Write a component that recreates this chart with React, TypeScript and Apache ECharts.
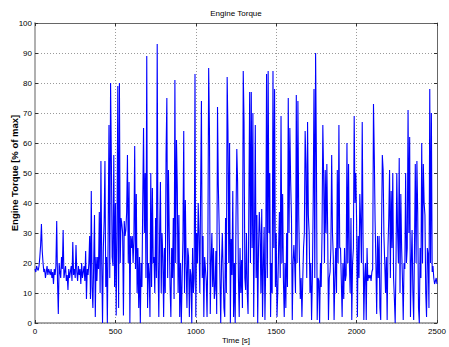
import React, { useEffect, useRef } from "react";
import * as echarts from "echarts";

const TITLE = "Engine Torque";
const X_NAME = "Time [s]";
const Y_NAME = "Engine Torque [% of max]";
const SAMPLE_STEP_S = 5;
const X_MIN = 0;
const X_MAX = 2500;
const X_INTERVAL = 500;
const Y_MIN = 0;
const Y_MAX = 100;
const Y_INTERVAL = 10;

// Engine torque [% of max], one reading every 5 s
const torque0to495 = [
  18, 17, 19, 18, 17.5, 19, 22, 26, 33, 24, 20, 17, 18, 15, 17, 19, 16, 18, 17, 16,
  18, 15, 17, 13, 18, 16, 19, 34, 14, 3, 20, 17, 15, 22, 18, 31, 15, 17, 19, 14,
  16, 11, 18, 15, 17, 19, 14, 27, 16, 18, 15, 26, 17, 14, 19, 16, 18, 13, 20, 15,
  17, 19, 14, 24, 8, 18, 16, 20, 29, 8, 44, 12, 5, 20, 36, 2, 22, 14, 22, 18,
  37, 10, 54, 20, 0, 25, 34, 54, 12, 22, 0, 30, 66, 15, 80, 54, 22, 19, 56, 12,
];
const torque500to995 = [
  40, 2.5, 30, 79, 5, 80, 20, 35, 33, 30, 2.5, 34, 29, 31, 37, 56, 20, 47, 0, 29,
  25, 29, 20, 28, 59, 18, 43, 10, 25, 5, 22, 0, 20, 12, 40, 65, 30, 50, 15, 89,
  5, 20, 16, 2, 50, 12, 45, 20, 22, 10, 35, 15, 93, 20, 2, 30, 47, 10, 30, 22,
  2, 25, 10, 56, 75, 15, 51, 30, 12, 2, 25, 15, 35, 8, 81, 20, 61, 45, 10, 36,
  2, 20, 0, 15, 28, 64, 10, 41, 20, 5, 25, 22, 2, 18, 16, 0, 25, 10, 15, 83,
];
const torque1000to1495 = [
  2, 30, 20, 40, 29, 10, 44, 74, 15, 29, 2, 22, 18, 14, 2, 25, 85, 64, 3, 20,
  30, 12, 25, 8, 11, 24, 3, 72, 46, 33, 15, 0, 20, 30, 17, 5, 2, 35, 10, 82,
  64, 20, 60, 0, 28, 16, 44, 2, 20, 0, 35, 58, 47, 15, 2, 25, 10, 21, 5, 84,
  67, 15, 11, 30, 10, 3, 40, 77, 20, 77, 25, 70, 2, 30, 66, 15, 36, 0, 25, 37,
  30, 10, 38, 2, 19, 32, 1, 20, 83, 15, 84, 30, 50, 2, 20, 10, 84, 25, 78, 12,
];
const torque1500to1995 = [
  30, 2, 11, 25, 37, 15, 69, 20, 43, 14, 2, 20, 5, 30, 12, 75, 30, 65, 47, 35,
  1, 20, 26, 20, 10, 76, 20, 74, 36, 20, 8, 15, 2, 14, 25, 30, 64, 53, 15, 67,
  36, 30, 10, 20, 1, 15, 40, 78, 15, 90, 56, 1, 15, 14, 0, 20, 12, 30, 66, 49,
  20, 51, 30, 53, 31, 1, 15, 17, 25, 56, 30, 22, 1, 15, 25, 10, 51, 20, 66, 25,
  25, 14, 2, 20, 8, 25, 14, 16, 60, 20, 53, 20, 10, 35, 1, 20, 25, 69, 40, 50,
];
const torque2000to2500 = [
  34, 2, 29, 15, 43, 34, 20, 67, 29, 1, 15, 20, 1, 25, 14, 16, 15, 16, 14, 17,
  18, 73, 56, 34, 20, 3, 29, 15, 29, 5, 1, 30, 56, 51, 29, 20, 10, 22, 1, 25,
  35, 51, 15, 44, 25, 50, 15, 8, 0, 20, 50, 30, 20, 55, 10, 43, 25, 15, 1, 20,
  18, 50, 20, 25, 71, 30, 62, 2, 20, 31, 10, 1, 25, 53, 20, 54, 37, 5, 0, 25,
  15, 60, 20, 53, 40, 36, 10, 2, 25, 23, 5, 78, 20, 70, 17, 19, 15, 13, 14, 15, 13,
];

const torque = [
  ...torque0to495,
  ...torque500to995,
  ...torque1000to1495,
  ...torque1500to1995,
  ...torque2000to2500,
];

const FONT = '"Liberation Sans", Arial, Helvetica, sans-serif';

export default function App() {
  const ref = useRef<HTMLDivElement>(null);

  useEffect(() => {
    if (!ref.current) return;
    const chart = echarts.init(ref.current, undefined, { renderer: "svg" });
    const data = torque.map((v, i) => [i * SAMPLE_STEP_S, v]);

    const labelStyle = {
      fontSize: 8,
      color: "#000",
      fontFamily: FONT,
      formatter: (v: number) => String(v),
    };
    const tickStyle = { inside: true, length: 3, lineStyle: { color: "#333", width: 1 } };
    const gridLine = { show: true, lineStyle: { color: "#9a9a9a", type: [1, 2], width: 1 } };

    chart.setOption({
      animation: false,
      backgroundColor: "#fff",
      grid: { left: 35, right: 12, top: 23, bottom: 24, outerBoundsMode: "none", containLabel: false },
      graphic: [
        {
          type: "text",
          x: 236,
          y: 13,
          style: {
            text: TITLE,
            align: "center",
            verticalAlign: "middle",
            fontSize: 8,
            fontFamily: FONT,
            fill: "#000",
          },
        },
      ],
      xAxis: [
        {
          type: "value",
          min: X_MIN,
          max: X_MAX,
          interval: X_INTERVAL,
          position: "bottom",
          axisLine: { show: true, onZero: false, lineStyle: { color: "#8a8a8a", width: 1.5 } },
          axisTick: tickStyle,
          axisLabel: { ...labelStyle, margin: 4 },
          splitLine: gridLine,
          name: X_NAME,
          nameLocation: "middle",
          nameGap: 17,
          nameMoveOverlap: false,
          nameTextStyle: {
            fontSize: 8,
            color: "#000",
            fontFamily: FONT,
            verticalAlign: "middle",
          },
        },
        {
          type: "value",
          min: X_MIN,
          max: X_MAX,
          interval: X_INTERVAL,
          position: "top",
          axisLine: { show: true, onZero: false, lineStyle: { color: "#666", width: 1 } },
          axisTick: tickStyle,
          axisLabel: { show: false },
          splitLine: { show: false },
        },
      ],
      yAxis: [
        {
          type: "value",
          min: Y_MIN,
          max: Y_MAX,
          interval: Y_INTERVAL,
          position: "left",
          axisLine: { show: true, onZero: false, lineStyle: { color: "#b0b0b0", width: 2 } },
          axisTick: tickStyle,
          axisLabel: { ...labelStyle, margin: 3 },
          splitLine: gridLine,
          name: Y_NAME,
          nameLocation: "middle",
          nameRotate: 90,
          nameGap: 21,
          nameMoveOverlap: false,
          nameTextStyle: {
            fontSize: 9.5,
            fontWeight: "bold",
            color: "#000",
            fontFamily: FONT,
            verticalAlign: "middle",
          },
        },
        {
          type: "value",
          min: Y_MIN,
          max: Y_MAX,
          interval: Y_INTERVAL,
          position: "right",
          axisLine: { show: true, onZero: false, lineStyle: { color: "#666", width: 1 } },
          axisTick: tickStyle,
          axisLabel: { show: false },
          splitLine: { show: false },
        },
      ],
      series: [
        {
          type: "line",
          xAxisIndex: 0,
          yAxisIndex: 0,
          data,
          symbol: "none",
          showSymbol: false,
          lineStyle: { color: "#0000ff", width: 1.1 },
          itemStyle: { color: "#0000ff" },
        },
      ],
    });

    return () => chart.dispose();
  }, []);

  return (
    <div
      ref={ref}
      style={{ position: "fixed", left: 0, top: 0, width: 449, height: 347 }}
    />
  );
}
